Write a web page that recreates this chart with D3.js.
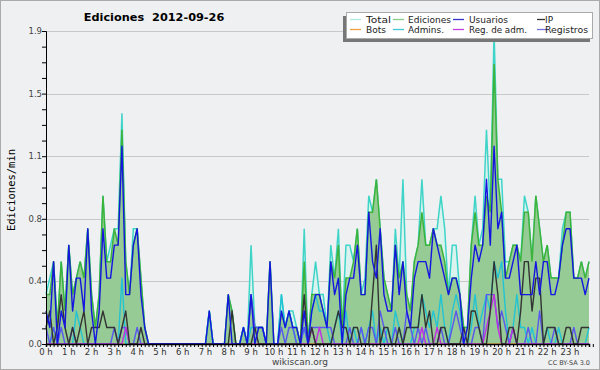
<!DOCTYPE html>
<html>
<head>
<meta charset="utf-8">
<script src="https://cdn.jsdelivr.net/npm/d3@7"></script>
<style>
  body { margin: 0; background: #fff; }
  svg { display: block; font-family: "DejaVu Sans", sans-serif; }
</style>
</head>
<body>
<svg width="600" height="370"></svg>
<script>
// edits per minute, one value per 10 minutes (6 per hour, 24 hours)
const total = [
  0.3,0.4,0.5,0.1,0.5,0.2, 0.6,0.3,0.4,0.5,0.4,0.7, 0.3,0.1,0.3,0.9,0.5,0.6, 0.7,0.7,1.4,0.5,0.3,0.7,
  0.7,0.4,0.1,0,0,0, 0,0,0,0,0,0, 0,0,0,0,0,0, 0,0.2,0,0,0,0,
  0.3,0.2,0,0,0.1,0, 0.6,0.1,0.1,0.1,0,0.5, 0,0,0.3,0.1,0.2,0.2, 0.1,0,0.7,0,0.3,0.5,
  0.3,0.3,0.1,0.6,0.4,0.7, 0.1,0.6,0.6,0.5,0.7,0.3, 0.4,0.9,0.8,1.0,0.7,0.4, 0.3,0.2,0.7,0.4,1.0,0.3,
  0.2,0.5,0.6,1.0,0.6,0.6, 0.7,0.7,0.9,0.7,0.3,0.6, 0.6,0.3,0.1,0.1,0.6,0.9, 0.6,0.7,1.3,0.8,1.9,1.0,
  1.0,0.5,0.5,0.6,0.6,0.5, 0.9,0.8,0.5,0.9,0.7,0.5, 0.6,0.4,0.4,0.4,0.7,0.8, 0.8,0.4,0.4,0.5,0.4,0.5
];
const ediciones = [
  0.3,0.3,0.5,0.1,0.5,0.2, 0.6,0.3,0.4,0.5,0.4,0.7, 0.3,0.1,0.3,0.9,0.5,0.5, 0.7,0.6,1.3,0.5,0.3,0.6,
  0.7,0.4,0.1,0,0,0, 0,0,0,0,0,0, 0,0,0,0,0,0, 0,0.2,0,0,0,0,
  0.3,0.2,0,0,0.1,0, 0.3,0.1,0.1,0.1,0,0.5, 0,0,0.2,0.1,0.2,0.1, 0.1,0,0.5,0,0.3,0.3,
  0.3,0.2,0.1,0.5,0.4,0.6, 0.1,0.4,0.4,0.5,0.7,0.3, 0.3,0.8,0.8,1.0,0.7,0.4, 0.3,0.2,0.6,0.4,0.5,0.3,
  0.2,0.5,0.6,0.8,0.6,0.6, 0.7,0.6,0.6,0.5,0.3,0.4, 0.4,0.3,0.1,0.1,0.6,0.8, 0.6,0.6,0.9,0.8,1.7,1.0,
  0.8,0.4,0.5,0.6,0.6,0.5, 0.8,0.8,0.5,0.9,0.7,0.5, 0.6,0.4,0.4,0.4,0.6,0.8, 0.8,0.4,0.4,0.5,0.4,0.5
];
const usuarios = [
  0.2,0.1,0.5,0,0.2,0.1, 0.6,0.2,0.4,0.4,0.2,0.7, 0.2,0,0.2,0.7,0.4,0.4, 0.6,0.6,1.2,0.3,0.3,0.6,
  0.7,0.3,0.1,0,0,0, 0,0,0,0,0,0, 0,0,0,0,0,0, 0,0.2,0,0,0,0,
  0.3,0,0,0,0.1,0, 0.3,0,0.1,0.1,0,0.5, 0,0,0.2,0.1,0.2,0.1, 0.1,0,0.2,0,0.2,0.3,
  0.3,0.2,0.1,0.5,0.3,0.4, 0,0.3,0.4,0.4,0.6,0.3, 0.3,0.8,0.5,0.4,0.7,0.3, 0.2,0.2,0.6,0.3,0.5,0.2,
  0.1,0.4,0.5,0.5,0.5,0.4, 0.7,0.6,0.5,0.4,0.3,0.4, 0.4,0.3,0,0.1,0.4,0.6, 0.5,0.6,1.0,0.6,1.2,0.7,
  0.8,0.4,0.4,0.5,0.6,0.3, 0.3,0.3,0.3,0.5,0.3,0.5, 0.5,0.3,0.3,0.4,0.6,0.7, 0.7,0.4,0.4,0.4,0.3,0.4
];
const ip = [
  0.1,0.2,0,0.1,0.3,0.1, 0,0.1,0,0.1,0.2,0, 0.1,0.1,0.1,0.2,0.1,0.1, 0.1,0,0.1,0.2,0,0,
  0,0.1,0,0,0,0, 0,0,0,0,0,0, 0,0,0,0,0,0, 0,0,0,0,0,0,
  0,0.2,0,0,0,0, 0,0.1,0,0,0,0, 0,0,0,0,0,0, 0,0,0.3,0,0.1,0,
  0,0,0,0,0.1,0.2, 0.1,0.1,0,0.1,0.1,0, 0,0,0.3,0.6,0,0.1, 0.1,0,0,0.1,0,0.1,
  0.1,0.1,0.1,0.3,0.1,0.2, 0,0,0.1,0.1,0,0, 0,0,0.1,0,0.2,0.2, 0.1,0,0,0.2,0.5,0.3,
  0,0,0.1,0.1,0,0.2, 0.5,0.5,0.2,0.4,0.4,0, 0.1,0.1,0.1,0,0,0.1, 0.1,0,0,0.1,0.1,0.1
];
const bots = new Array(144).fill(0);
const admins = [
  0,0,0.1,0,0,0, 0,0,0.2,0.1,0,0, 0,0,0,0,0,0, 0,0,0.4,0,0,0,
  0,0,0,0,0,0, 0,0,0,0,0,0, 0,0,0,0,0,0, 0,0.2,0,0,0,0,
  0,0,0,0,0.1,0, 0.1,0.1,0.1,0.1,0,0, 0,0,0.3,0.1,0.2,0.1, 0,0,0.1,0,0.2,0.3,
  0.2,0.2,0.1,0,0.1,0.2, 0,0.2,0,0.1,0,0.1, 0,0.1,0.2,0,0.1,0, 0.1,0,0.2,0.1,0,0,
  0,0.1,0.1,0.3,0.2,0.1, 0.2,0.1,0.3,0.1,0,0.2, 0.3,0.2,0,0,0.1,0.3, 0.1,0.2,0.3,0.2,0.5,0.4,
  0.5,0.2,0,0.1,0.3,0.1, 0.1,0,0.1,0,0,0, 0.1,0,0,0.1,0,0, 0,0,0,0,0,0.1
];
const regAdm = [
  0,0,0,0,0,0, 0,0,0,0,0,0, 0,0,0,0,0,0, 0,0,0,0.1,0,0,
  0,0,0,0,0,0, 0,0,0,0,0,0, 0,0,0,0,0,0, 0,0,0,0,0,0,
  0,0,0,0,0,0, 0,0,0,0,0,0, 0,0,0,0,0,0, 0,0,0,0,0.1,0,
  0.1,0,0,0,0,0, 0,0,0,0,0,0, 0,0,0,0,0,0, 0,0,0,0,0,0,
  0,0,0,0.1,0,0, 0,0.1,0,0,0,0, 0,0,0,0,0,0, 0,0,0.1,0.2,0.3,0.1,
  0,0,0,0.1,0,0, 0,0,0,0,0,0, 0,0,0,0,0,0, 0,0,0,0,0,0
];
const registros = [
  0.1,0,0.1,0,0.1,0, 0,0.1,0,0,0,0, 0,0,0,0,0,0, 0.1,0,0.1,0.1,0,0,
  0.1,0,0,0,0,0, 0,0,0,0,0,0, 0,0,0,0,0,0, 0,0,0,0,0,0,
  0,0,0,0,0,0, 0.3,0.1,0.1,0.1,0,0, 0,0,0.1,0,0.1,0.1, 0,0,0.1,0,0.1,0.1,
  0.1,0.1,0.1,0.1,0,0, 0,0,0.1,0,0,0.1, 0,0.1,0.1,0,0.2,0.1, 0,0,0.1,0,0,0.2,
  0.1,0,0.1,0,0.1,0, 0,0,0.1,0,0,0.1, 0.2,0.1,0,0,0,0.1, 0.1,0,0.3,0.3,0.3,0.1,
  0.2,0.1,0,0.1,0,0, 0,0.1,0,0,0.2,0, 0,0,0.1,0,0,0, 0,0.1,0,0,0,0
];
const hourLabels = d3.range(24).map(h => h + " h");
const legendNames = ["Total", "Ediciones", "Usuarios", "IP", "Bots", "Admins.", "Reg. de adm.", "Registros"];
const legendColors = ["#aee8e0", "#88cc88", "#3333cc", "#333333", "#f0a040", "#40c8d8", "#c040e0", "#7070e0"];

const svg = d3.select("svg");
const margin = { left: 46, right: 11, top: 31, bottom: 26 };
const W = 600, H = 370;

svg.append("rect").attr("x", 0.5).attr("y", 0.5).attr("width", W - 1).attr("height", H - 1)
  .attr("fill", "#eff0f2").attr("stroke", "#aaa");

const x = d3.scaleLinear().domain([0, 143]).range([margin.left, W - margin.right]);
const yMax = 1.9;
const y = d3.scaleLinear().domain([0, yMax]).range([H - margin.bottom, margin.top]);

const majors = d3.range(6).map(i => i * yMax / 5);
const minors = d3.range(21).map(i => i * yMax / 20);

// grid
svg.append("g").selectAll("line").data(majors.slice(1)).enter().append("line")
  .attr("x1", margin.left).attr("x2", W - margin.right)
  .attr("y1", d => Math.round(y(d)) + 0.5).attr("y2", d => Math.round(y(d)) + 0.5)
  .attr("stroke", "#c8c8c8");

// series
const idx = d3.range(144);
const area = arr => d3.area().x(i => x(i)).y0(y(0)).y1(i => y(arr[i]));
const line = arr => d3.line().x(i => x(i)).y(i => y(arr[i]));

svg.append("path").attr("d", area(total)(idx)).attr("fill", "#daf3ef");
svg.append("path").attr("d", line(total)(idx)).attr("fill", "none").attr("stroke", "#3fd4c8").attr("stroke-width", 1.5);
svg.append("path").attr("d", area(ediciones)(idx)).attr("fill", "#96cb96");
svg.append("path").attr("d", line(ediciones)(idx)).attr("fill", "none").attr("stroke", "#3cb43c").attr("stroke-width", 1.5);

[[bots, "#f0a040"], [admins, "#22c4d4"], [registros, "#5858ee"], [regAdm, "#c030e0"],
 [ip, "#333333"], [usuarios, "#1515e0"]].forEach(([arr, c]) => {
  svg.append("path").attr("d", line(arr)(idx)).attr("fill", "none")
    .attr("stroke", c).attr("stroke-width", 1.4).attr("stroke-linejoin", "round");
});

// axes
const yAxis = d3.axisLeft(y).tickValues(minors).tickSize(4).tickFormat("");
svg.append("g").attr("transform", `translate(${margin.left},0)`).call(yAxis)
  .call(g => g.select(".domain").attr("stroke", "#000"));
svg.append("g").selectAll("text").data(majors).enter().append("text")
  .attr("x", margin.left - 4).attr("y", d => y(d)).attr("dy", "0.35em")
  .attr("text-anchor", "end").attr("font-size", 8.5).attr("fill", "#444")
  .text(d => d3.format(".1f")(d));

const xAxis = d3.axisBottom(x).tickValues(d3.range(0, 145)).tickSize(3).tickFormat("");
svg.append("g").attr("transform", `translate(0,${y(0)})`).call(xAxis)
  .call(g => g.select(".domain").attr("stroke", "#000").attr("stroke-width", 1.5));
svg.append("g").selectAll("text").data(hourLabels).enter().append("text")
  .attr("x", (d, i) => x(i * 6)).attr("y", 355)
  .attr("text-anchor", "middle").attr("font-size", 8.5).attr("fill", "#333")
  .text(d => d);

// titles
svg.append("text").attr("x", 154).attr("y", 21).attr("text-anchor", "middle")
  .attr("font-weight", "bold").attr("font-size", 11.3).style("white-space", "pre")
  .text("Ediciones  2012-09-26");
svg.append("text").attr("transform", "translate(15,190) rotate(-90)")
  .attr("text-anchor", "middle").attr("font-family", "DejaVu Sans Mono").attr("font-size", 10.5)
  .text("Ediciones/min");
svg.append("text").attr("x", 300).attr("y", 365).attr("text-anchor", "middle")
  .attr("font-size", 9).attr("fill", "#444").text("wikiscan.org");
svg.append("text").attr("x", 590).attr("y", 365).attr("text-anchor", "end")
  .attr("font-size", 6.5).attr("fill", "#444").text("CC BY-SA 3.0");

// legend
const lg = svg.append("g");
lg.append("rect").attr("x", 343).attr("y", 16).attr("width", 247).attr("height", 26).attr("fill", "#777");
lg.append("rect").attr("x", 346.5).attr("y", 12.5).attr("width", 246).attr("height", 26)
  .attr("fill", "#fff").attr("stroke", "#aaa");
const colX = [350, 393, 453, 537];
const items = lg.selectAll("g.item").data(legendNames).enter().append("g")
  .attr("transform", (d, i) => `translate(${colX[i % 4]},${i < 4 ? 19.5 : 29.5})`);
items.append("line").attr("x1", 0).attr("x2", d => d === "IP" ? 8 : 11)
  .attr("stroke", (d, i) => legendColors[i]).attr("stroke-width", 1.3);
items.append("text").attr("x", (d, i) => [16, 15, 16, 8][i % 4]).attr("dy", "0.35em")
  .attr("font-size", 9.5).attr("fill", "#222").attr("textLength", d => ({
    "Total": 25, "Ediciones": 43, "Usuarios": 39, "IP": 8,
    "Bots": 20, "Admins.": 36, "Reg. de adm.": 58, "Registros": 43 })[d])
  .attr("lengthAdjust", "spacingAndGlyphs").text(d => d);
</script>
</body>
</html>
